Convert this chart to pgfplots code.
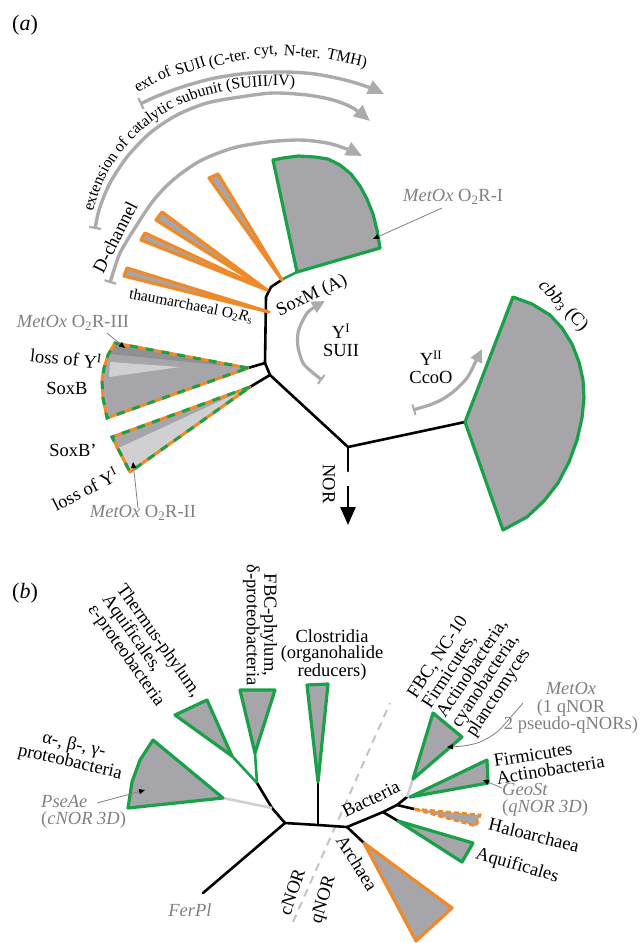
\documentclass[border=0pt]{standalone}
\usepackage{pgfplots}
\pgfplotsset{compat=1.18}
\usepackage{fontspec}
\setmainfont{Liberation Serif}
\usetikzlibrary{arrows.meta,decorations.text}
\definecolor{wg}{HTML}{1BA04A}
\definecolor{wo}{HTML}{F08A28}
\definecolor{wf}{HTML}{A6A6AA}
\definecolor{wl}{HTML}{D0D0D2}
\definecolor{wd}{HTML}{909094}
\definecolor{ga}{HTML}{ABABAB}
\definecolor{gt}{HTML}{808080}
\definecolor{dl}{HTML}{C4C4C4}
\newcommand\fs{\fontsize{18.5}{17.5}\selectfont}
\tikzset{
  tb/.style={black,line width=2.6pt,line join=round,line cap=round},
  gw/.style={fill=wf,draw=wg,line width=3.2pt,line join=round},
  ow/.style={fill=wf,draw=wo,line width=3.2pt,line join=round},
  garc/.style={ga,line width=3.4pt,{Bar[width=12pt,line width=2.2pt]}-{Triangle[length=16pt,width=14pt]}},
  ptr/.style={gt,line width=0.8pt,-{Triangle[length=6pt,width=5pt,color=black]}},
  lab/.style={font=\fs,inner sep=0pt},
  aw/.style={font=\fontsize{16}{16}\selectfont,inner sep=0pt,anchor=base},
}
\begin{document}
\begin{tikzpicture}
\begin{axis}[width=641pt,height=943pt,scale only axis,
  xmin=0,xmax=641,ymin=0,ymax=943,y dir=reverse,
  axis lines=none,ticks=none,clip=false]
% ---------------- panel (a) tree ----------------
\addplot[tb] coordinates {(283,279)(271,287)(266,297)(265,363)(248,368)};
\addplot[tb] coordinates {(265,363)(270,375)(250,387)};
\addplot[tb] coordinates {(270,375)(348,447)(465,422)};
\addplot[tb] coordinates {(348,447)(348,471)};
\addplot[tb,line cap=butt,-{Triangle[length=18pt,width=15pt]}] coordinates {(348,486)(348,525)};
\addplot[wg,line width=2.6pt] coordinates {(283,279)(297,272)};
% wedges (a)
\addplot[gw] coordinates {(297,272)(273,160)(283,158)(298,156)(315,157)(328,159)(340,165)(351,174)(360,186)(367,199)(373,214)(377,230)(380,248)} -- cycle;
\addplot[gw] coordinates {(465,422)(513,297)(532,304)(550,315)(562,328)(572,344)(579,362)(583,380)(584,398)(582,418)(577,440)(569,462)(558,483)(544,501)(527,517)(503,530)} -- cycle;
\addplot[ow] coordinates {(282,280)(209,178)(218,174)} -- cycle;
\addplot[ow] coordinates {(267,290)(156,220)(162,212)} -- cycle;
\addplot[ow] coordinates {(267,290)(141,240)(145,233)} -- cycle;
\addplot[ow] coordinates {(269,312)(124,276)(127,268)} -- cycle;
% SoxB
\addplot[fill=wf,draw=none] coordinates {(248,368)(115,343)(108,355)(104,368)(102,380)(103,398)(107,418)} -- cycle;
\addplot[fill=wd,draw=none] coordinates {(248,368)(115,343)(111,354)} -- cycle;
\addplot[fill=wl,draw=none] coordinates {(110,362)(180,367)(109,377)} -- cycle;
\addplot[draw=wo,line width=3pt,line join=round] coordinates {(248,368)(115,343)(108,355)(104,368)(102,380)(103,398)(107,418)} -- cycle;
\addplot[draw=wg,line width=3pt,dash pattern=on 8pt off 8pt] coordinates {(248,368)(115,343)(108,355)(104,368)(102,380)(103,398)(107,418)} -- cycle;
% SoxB'
\addplot[fill=wl,draw=none] coordinates {(250,387)(112,437)(130,472)} -- cycle;
\addplot[fill=wf,draw=none] coordinates {(250,387)(112,437)(116,449)} -- cycle;
\addplot[draw=wo,line width=3pt,line join=round] coordinates {(250,387)(112,437)(130,472)} -- cycle;
\addplot[draw=wg,line width=3pt,dash pattern=on 8pt off 8pt] coordinates {(250,387)(112,437)(130,472)} -- cycle;
% grey arcs
\addplot[garc,smooth] coordinates {(110,283)(114,270)(120,253)(133,231)(153,201)(173,180)(200,161)(233,148)(267,142)(300,140)(327,143)(347,149)(362,156)};
\addplot[garc,smooth] coordinates {(95,229)(100,207)(110,183)(127,157)(150,133)(177,115)(207,103)(240,97)(273,93)(307,95)(333,100)(353,108)(370,121)};
\addplot[garc,smooth] coordinates {(140,104)(160,95)(185,86)(215,78)(250,73)(285,72)(315,74)(345,80)(368,87)(384,94)};
\addplot[ga,line width=3.2pt,smooth,{Bar[width=11pt,line width=2pt]}-{Triangle[length=13pt,width=12pt]}] coordinates {(322,380)(312,372)(303,363)(298,347)(298,333)(302,322)(309,311)(325,301)};
\addplot[ga,line width=3.2pt,smooth,{Bar[width=11pt,line width=2pt]}-{Triangle[length=13pt,width=12pt]}] coordinates {(413,410)(437,402)(453,392)(467,378)(475,363)(482,349)};
% pointers (a)
\addplot[ptr] coordinates {(442,208)(373,239)};
\addplot[ptr] coordinates {(107,333)(125,348)};
\addplot[ptr] coordinates {(138,508)(133,462)};
% arc text (outer)
\node[aw,rotate=30] at (axis cs:148,87) {ext.};
\node[aw,rotate=24] at (axis cs:166,78) {of};
\node[aw,rotate=18] at (axis cs:192,71) {SUII};
\node[aw,rotate=12] at (axis cs:230,63) {(C-ter.};
\node[aw,rotate=3] at (axis cs:266,55) {cyt,};
\node[aw,rotate=-4] at (axis cs:302,57) {N-ter.};
\node[aw,rotate=-13] at (axis cs:346,63) {TMH)};
% labels (a)
\node[lab,font=\fontsize{22}{22}\selectfont] at (axis cs:25,25) {(\textit{a})};
\node[lab,gt,anchor=west] at (axis cs:403,197) {\textit{MetOx} O\textsubscript{2}R-I};
\node[lab,rotate=63] at (axis cs:115,237) {D-channel};
\node[lab,rotate=-11,font=\fontsize{15.5}{15.5}\selectfont] at (axis cs:191,306) {thaumarchaeal O\textsubscript{2}\textit{R}\textsubscript{s}};
\node[lab,rotate=25] at (axis cs:312,296) {SoxM (A)};
\node[lab,align=center] at (axis cs:341,340) {Y\textsuperscript{I}\\SUII};
\node[lab,align=center] at (axis cs:431,367) {Y\textsuperscript{II}\\CcoO};
\node[lab,rotate=-46] at (axis cs:563,306) {\textit{cbb}\textsubscript{3} (C)};
\node[lab,rotate=-90] at (axis cs:329,484) {NOR};
\node[lab,gt] at (axis cs:73,323) {\textit{MetOx} O\textsubscript{2}R-III};
\node[lab,rotate=-6] at (axis cs:66,358) {loss of Y\textsuperscript{I}};
\node[lab] at (axis cs:67,388) {SoxB};
\node[lab] at (axis cs:73,450) {SoxB’};
\node[lab,rotate=27] at (axis cs:85,489) {loss of Y\textsuperscript{I}};
\node[lab,gt] at (axis cs:143,513) {\textit{MetOx} O\textsubscript{2}R-II};
% ---------------- panel (b) ----------------
\addplot[dl,line width=2pt,dash pattern=on 8pt off 6pt] coordinates {(293,922)(390,703)};
\addplot[tb] coordinates {(203,893)(285,823)(318,825)(347,827)(383,812)(397,805)(407,797)};
\addplot[tb] coordinates {(318,825)(318,783)};
\addplot[tb] coordinates {(285,823)(272,808)(257,783)};
\addplot[tb] coordinates {(397,805)(414,809)};
\addplot[tb] coordinates {(383,812)(398,821)};
\addplot[tb] coordinates {(347,827)(364,843)};
\addplot[wl,line width=2.6pt] coordinates {(272,808)(223,798)};
\addplot[wl,line width=2.6pt] coordinates {(407,797)(413,779)};
\addplot[wg,line width=2.6pt] coordinates {(257,783)(255,753)};
\addplot[wg,line width=2.6pt] coordinates {(257,783)(232,756)};
\addplot[gw] coordinates {(232,756)(175,715)(207,700)} -- cycle;
\addplot[gw] coordinates {(255,753)(240,690)(275,690)} -- cycle;
\addplot[gw] coordinates {(318,782)(307,685)(328,684)} -- cycle;
\addplot[gw] coordinates {(223,798)(153,740)(140,760)(132,782)(128,808)} -- cycle;
\addplot[gw] coordinates {(413,779)(433,713)(462,737)} -- cycle;
\addplot[gw] coordinates {(410,797)(487,760)(488,783)} -- cycle;
\addplot[gw] coordinates {(398,821)(473,843)(462,862)} -- cycle;
\addplot[ow] coordinates {(364,843)(452,908)(416,941)} -- cycle;
\addplot[fill=wf,draw=wo,line width=2.8pt,dash pattern=on 5pt off 3pt] coordinates {(414,809)(480,815)(476,826)} -- cycle;
% pointers (b)
\addplot[ptr] coordinates {(97,803)(145,790)};
\addplot[ptr,smooth] coordinates {(523,703)(510,718)(497,732)(480,742)(463,746)(447,747)};
\addplot[ptr] coordinates {(502,788)(483,780)};
% labels (b)
\node[lab,font=\fontsize{22}{22}\selectfont] at (axis cs:25,593) {(\textit{b})};
\node[lab,rotate=-54.7,align=left] at (axis cs:144,651) {Thermus-phylum,\\Aquificales,\\ε-proteobacteria};
\node[lab,rotate=-90,align=center] at (axis cs:260,625) {FBC-phylum,\\δ-proteobacteria};
\node[lab,align=center,font=\fontsize{18.5}{16}\selectfont] at (axis cs:332,655) {Clostridia\\(organohalide\\reducers)};
\node[lab,rotate=56.6,align=left] at (axis cs:473,669) {FBC, NC-10\\Firmicutes,\\Actinobacteria,\\cyanobacteria,\\planctomyces};
\node[lab,gt,align=center] at (axis cs:571,708) {\textit{MetOx}\\(1 qNOR\\2 pseudo-qNORs)};
\node[lab,rotate=9,align=left] at (axis cs:549,761) {Firmicutes\\Actinobacteria};
\node[lab,gt,align=left,anchor=west] at (axis cs:502,800) {\textit{GeoSt}\\(\textit{qNOR 3D})};
\node[lab,rotate=-14] at (axis cs:534,835) {Haloarchaea};
\node[lab,rotate=-16] at (axis cs:517,866) {Aquificales};
\node[lab,rotate=26] at (axis cs:371,799) {Bacteria};
\node[lab,rotate=-58] at (axis cs:357,863) {Archaea};
\node[lab,rotate=71] at (axis cs:292,892) {cNOR};
\node[lab,rotate=73] at (axis cs:324,900) {qNOR};
\node[lab,gt] at (axis cs:190,910) {\textit{FerPl}};
\node[lab,gt,align=left,anchor=west] at (axis cs:41,812) {\textit{PseAe}\\(\textit{cNOR 3D})};
\node[lab,rotate=-13,align=center] at (axis cs:72,754) {α-, β-, γ-\\proteobacteria};
\end{axis}
\begin{scope}[x=1pt,y=-1pt,shift={(0pt,943pt)}]
\path[decorate,decoration={text along path,text={|\fontsize{16}{16}\selectfont|extension of catalytic subunit (SUIII/IV)}}] plot[smooth] coordinates {(93,212)(99,192)(108,172)(123,150)(144,128)(170,110)(200,97)(235,89)(270,86)(305,87)(335,91)(365,100)};
\end{scope}
\pgfresetboundingbox
\useasboundingbox (current axis.south west) rectangle (current axis.north east);
\end{tikzpicture}
\end{document}
